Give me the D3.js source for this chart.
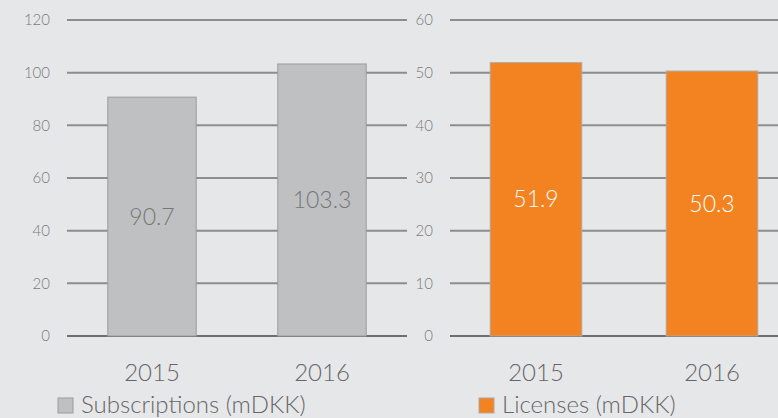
<!DOCTYPE html>
<html>
<head>
<meta charset="utf-8">
<script src="https://cdn.jsdelivr.net/npm/d3@7"></script>
<style>
  body { margin: 0; background: #e6e7e9; }
  svg { display: block; font-family: Lato, "Open Sans", sans-serif; font-weight: 300; }
</style>
</head>
<body>
<div id="chart"></div>
<script>
// data
var years = ["2015", "2016"];
var subscriptions = [90.7, 103.3];
var licenses = [51.9, 50.3];
var leftTicks = [0, 20, 40, 60, 80, 100, 120];
var rightTicks = [0, 10, 20, 30, 40, 50, 60];

var width = 778, height = 418;

var svg = d3.select("#chart").append("svg")
    .attr("width", width)
    .attr("height", height);

svg.append("rect")
    .attr("width", width)
    .attr("height", height)
    .attr("fill", "#e6e7e9");

// draws one panel: gridlines, ticks, bars, labels, legend
function panel(opts) {
    var x = d3.scaleBand().domain(years).range(opts.xRange).paddingInner(0.48).paddingOuter(0.24);
    var y = d3.scaleLinear().domain([0, opts.max]).range([336, 20]);

    var g = svg.append("g");

    // gridlines
    g.selectAll(".grid")
        .data(opts.ticks)
        .enter().append("line")
        .attr("x1", opts.gridX[0])
        .attr("x2", opts.gridX[1])
        .attr("y1", function(d) { return y(d); })
        .attr("y2", function(d) { return y(d); })
        .attr("stroke", function(d) { return d === 0 ? "#6e6e6e" : "#8d8d8d"; })
        .attr("stroke-width", 2);

    // tick labels
    g.selectAll(".tick")
        .data(opts.ticks)
        .enter().append("text")
        .attr("x", opts.labelX)
        .attr("y", function(d) { return y(d); })
        .attr("dy", "0.35em")
        .attr("text-anchor", "end")
        .attr("font-size", 15)
        .attr("fill", "#7a7a7a")
        .text(function(d) { return d; });

    // bars
    g.selectAll(".bar")
        .data(opts.values)
        .enter().append("rect")
        .attr("x", function(d, i) { return x(years[i]); })
        .attr("width", x.bandwidth())
        .attr("y", function(d) { return y(d); })
        .attr("height", function(d) { return y(0) - y(d); })
        .attr("fill", opts.color)
        .attr("stroke", opts.stroke)
        .attr("stroke-width", 1);

    // value labels
    g.selectAll(".val")
        .data(opts.values)
        .enter().append("text")
        .attr("x", function(d, i) { return x(years[i]) + x.bandwidth() / 2; })
        .attr("y", function(d) { return (y(d) + y(0)) / 2; })
        .attr("dy", "0.35em")
        .attr("text-anchor", "middle")
        .attr("font-size", 23)
        .attr("fill", opts.labelColor)
        .text(function(d) { return d.toFixed(1); });

    // category labels
    g.selectAll(".cat")
        .data(years)
        .enter().append("text")
        .attr("x", function(d) { return x(d) + x.bandwidth() / 2; })
        .attr("y", 381)
        .attr("text-anchor", "middle")
        .attr("font-size", 24)
        .attr("fill", "#666")
        .text(function(d) { return d; });

    // legend
    g.append("rect")
        .attr("x", opts.legendX)
        .attr("y", 398)
        .attr("width", 15)
        .attr("height", 15)
        .attr("fill", opts.color)
        .attr("stroke", opts.stroke);

    g.append("text")
        .attr("x", opts.legendX + 23)
        .attr("y", 413)
        .attr("font-size", 24)
        .attr("fill", "#666")
        .text(opts.legend);
}

panel({
    values: subscriptions,
    max: 120,
    ticks: leftTicks,
    xRange: [67, 407],
    gridX: [67, 407],
    labelX: 50,
    color: "#bfc0c2",
    stroke: "#9b9b9d",
    labelColor: "#777",
    legendX: 58,
    legend: "Subscriptions (mDKK)"
});

panel({
    values: licenses,
    max: 60,
    ticks: rightTicks,
    xRange: [448, 800],
    gridX: [450, 778],
    labelX: 433,
    color: "#f38321",
    stroke: "#b0a89f",
    labelColor: "#fff",
    legendX: 479,
    legend: "Licenses (mDKK)"
});
</script>
</body>
</html>
